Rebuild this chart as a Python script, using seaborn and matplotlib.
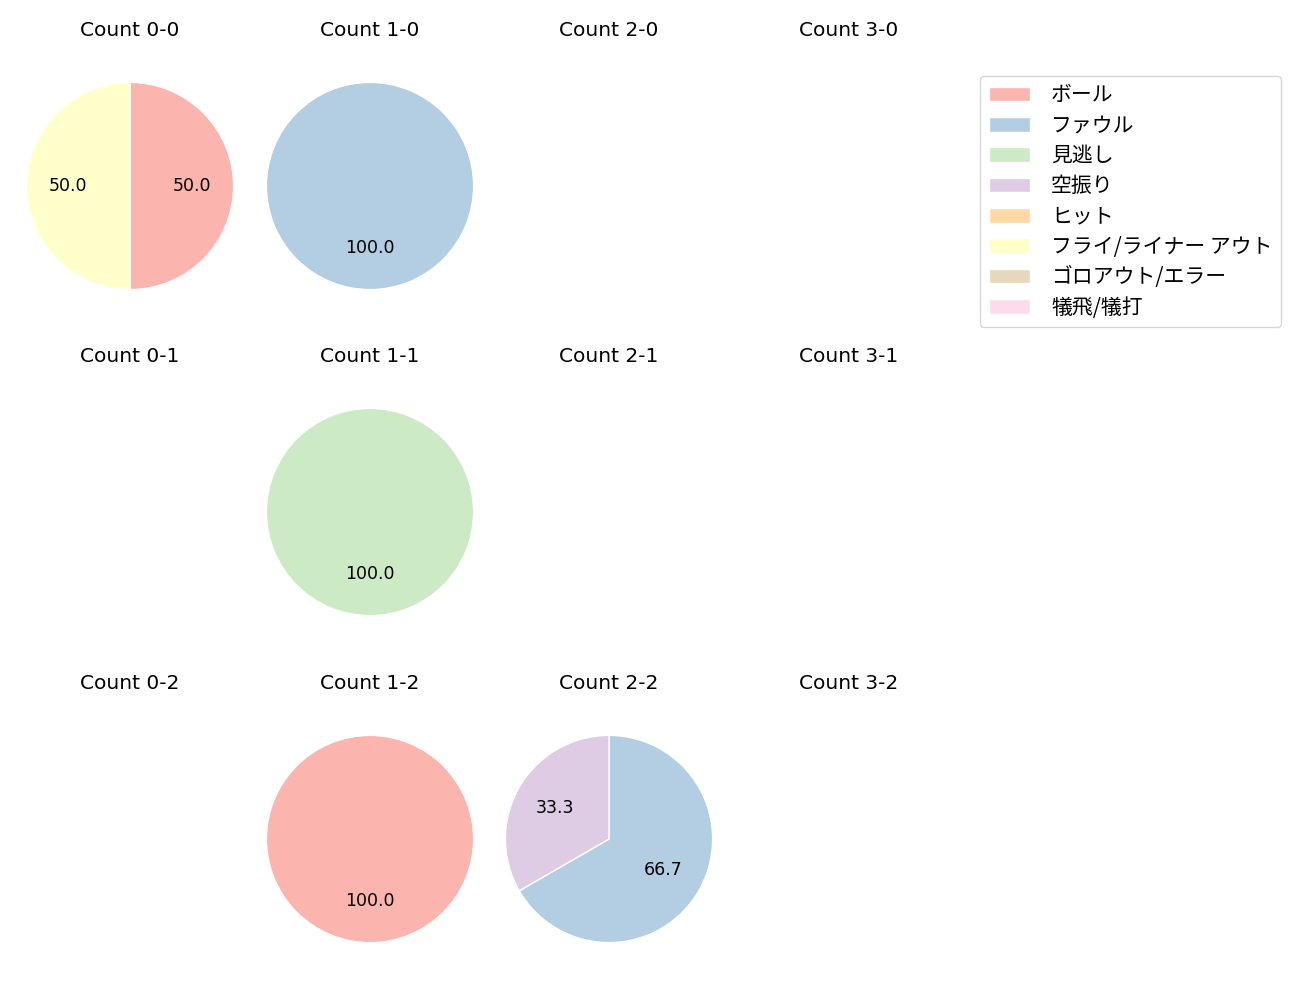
import matplotlib
matplotlib.use("Agg")
import matplotlib.pyplot as plt
import seaborn as sns
from matplotlib.patches import Patch

sns.set_theme(style="white")
plt.rcParams['font.family'] = ['Noto Sans CJK JP', 'DejaVu Sans']
plt.rcParams['text.color'] = 'black'

categories = ['ボール', 'ファウル', '見逃し', '空振り', 'ヒット',
              'フライ/ライナー アウト', 'ゴロアウト/エラー', '犠飛/犠打']

balls = [0, 1, 2, 3]
strikes = [0, 1, 2]

# values per count, in category order
values_0_0 = [1, 0, 0, 0, 0, 1, 0, 0]
values_1_0 = [0, 1, 0, 0, 0, 0, 0, 0]
values_2_0 = [0, 0, 0, 0, 0, 0, 0, 0]
values_3_0 = [0, 0, 0, 0, 0, 0, 0, 0]
values_0_1 = [0, 0, 0, 0, 0, 0, 0, 0]
values_1_1 = [0, 0, 1, 0, 0, 0, 0, 0]
values_2_1 = [0, 0, 0, 0, 0, 0, 0, 0]
values_3_1 = [0, 0, 0, 0, 0, 0, 0, 0]
values_0_2 = [0, 0, 0, 0, 0, 0, 0, 0]
values_1_2 = [1, 0, 0, 0, 0, 0, 0, 0]
values_2_2 = [0, 2, 0, 1, 0, 0, 0, 0]
values_3_2 = [0, 0, 0, 0, 0, 0, 0, 0]

data = {
    (0, 0): values_0_0, (1, 0): values_1_0, (2, 0): values_2_0, (3, 0): values_3_0,
    (0, 1): values_0_1, (1, 1): values_1_1, (2, 1): values_2_1, (3, 1): values_3_1,
    (0, 2): values_0_2, (1, 2): values_1_2, (2, 2): values_2_2, (3, 2): values_3_2,
}

colors = sns.color_palette('Pastel1', len(categories))

W, H = 1300, 1000
fig = plt.figure(figsize=(13, 10), dpi=100)

col_cx = [130, 370, 609, 849]
row_cy = [186, 512, 839]
S = 259

for s in strikes:
    for b in balls:
        cx, cy = col_cx[b], row_cy[s]
        ax = fig.add_axes([(cx - S / 2) / W, 1 - (cy + S / 2) / H, S / W, S / H])
        vals = data[(b, s)]
        ax.set_title(f'Count {b}-{s}', fontsize=14.5, pad=15,
                     family=['DejaVu Sans'], color='black')
        idx = [i for i, v in enumerate(vals) if v > 0]
        if idx:
            ax.pie([vals[i] for i in idx], colors=[colors[i] for i in idx],
                   autopct='%1.1f', startangle=90, counterclock=False,
                   textprops={'fontsize': 12.5, 'family': ['DejaVu Sans'],
                              'color': 'black'})
        else:
            ax.set_xticks([])
            ax.set_yticks([])
            for sp in ax.spines.values():
                sp.set_visible(False)

handles = [Patch(facecolor=c, label=l) for c, l in zip(colors, categories)]
leg = fig.legend(handles=handles, loc='upper right',
                 bbox_to_anchor=(1281 / W, 1 - 76 / H),
                 borderaxespad=0, fontsize=15, labelspacing=0.4,
                 handletextpad=1.0, frameon=True)
for t in leg.get_texts():
    t.set_color('black')

fig.savefig('out.png', dpi=100)
